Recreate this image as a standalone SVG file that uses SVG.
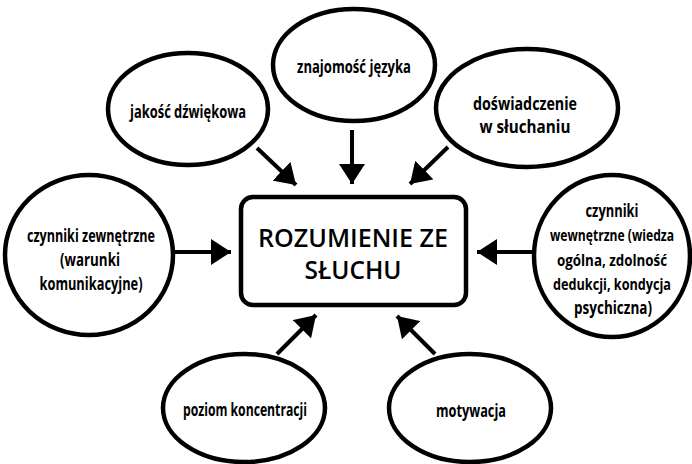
<svg xmlns="http://www.w3.org/2000/svg" width="692" height="464" viewBox="0 0 692 464">
<defs>
<style>
.n{fill:#fff;stroke:#000;stroke-width:4.5}
.t{font-family:"Open Sans","Liberation Sans",sans-serif;font-weight:700;font-size:17px;fill:#000;text-anchor:middle}
.s{font-size:16px}
.c{font-family:"Open Sans","Liberation Sans",sans-serif;font-weight:600;font-size:25px;fill:#000;text-anchor:middle}
.e{stroke:#000;stroke-width:4;fill:none;marker-end:url(#ah)}
</style>
<marker id="ah" viewBox="0 0 20 26" refX="20" refY="13" markerWidth="20" markerHeight="26" markerUnits="userSpaceOnUse" orient="auto">
<path d="M0,0 L20,13 L0,26 z" fill="#000"/>
</marker>
</defs>
<rect width="692" height="464" fill="#fff"/>
<g id="connectors">
<line class="e" x1="257" y1="148" x2="296" y2="185"/>
<line class="e" x1="352" y1="130" x2="352" y2="184"/>
<line class="e" x1="448" y1="147" x2="410" y2="184"/>
<line class="e" x1="175" y1="252" x2="231" y2="252"/>
<line class="e" x1="533" y1="252" x2="477" y2="252"/>
<line class="e" x1="277" y1="354" x2="316" y2="315"/>
<line class="e" x1="435" y1="354" x2="397" y2="316"/>
</g>
<g id="center">
<rect class="n" x="241" y="197" width="225" height="108" rx="12"/>
<text class="c" x="353" y="247" textLength="190" lengthAdjust="spacingAndGlyphs">ROZUMIENIE ZE</text>
<text class="c" x="353" y="279" textLength="97" lengthAdjust="spacingAndGlyphs">SŁUCHU</text>
</g>
<g id="jakosc">
<ellipse class="n" cx="188" cy="109" rx="80" ry="56"/>
<text class="t" x="188" y="118" textLength="116" lengthAdjust="spacingAndGlyphs">jakość dźwiękowa</text>
</g>
<g id="znajomosc">
<ellipse class="n" cx="354" cy="65" rx="81" ry="56"/>
<text class="t" x="354" y="73" textLength="114" lengthAdjust="spacingAndGlyphs">znajomość języka</text>
</g>
<g id="doswiadczenie">
<ellipse class="n" cx="527" cy="108" rx="91" ry="59"/>
<text class="t" x="525" y="110" textLength="104" lengthAdjust="spacingAndGlyphs">doświadczenie</text>
<text class="t" x="525" y="133" textLength="91" lengthAdjust="spacingAndGlyphs">w słuchaniu</text>
</g>
<g id="zewnetrzne">
<ellipse class="n" cx="89" cy="255" rx="84" ry="80"/>
<text class="t" x="91" y="242" textLength="128" lengthAdjust="spacingAndGlyphs">czynniki zewnętrzne</text>
<text class="t" x="90" y="266" textLength="60" lengthAdjust="spacingAndGlyphs">(warunki</text>
<text class="t" x="91" y="290" textLength="103" lengthAdjust="spacingAndGlyphs">komunikacyjne)</text>
</g>
<g id="wewnetrzne">
<ellipse class="n" cx="612" cy="256" rx="78" ry="81"/>
<text class="t" x="612" y="217" textLength="53" lengthAdjust="spacingAndGlyphs">czynniki</text>
<text class="t s" x="612" y="241" textLength="124" lengthAdjust="spacingAndGlyphs">wewnętrzne (wiedza</text>
<text class="t s" x="612" y="266" textLength="110" lengthAdjust="spacingAndGlyphs">ogólna, zdolność</text>
<text class="t s" x="612" y="290" textLength="118" lengthAdjust="spacingAndGlyphs">dedukcji, kondycja</text>
<text class="t" x="613" y="314" textLength="78" lengthAdjust="spacingAndGlyphs">psychiczna)</text>
</g>
<g id="poziom">
<ellipse class="n" cx="244" cy="408" rx="81" ry="54"/>
<text class="t" x="245" y="416" textLength="124" lengthAdjust="spacingAndGlyphs">poziom koncentracji</text>
</g>
<g id="motywacja">
<ellipse class="n" cx="470" cy="408" rx="81" ry="54"/>
<text class="t" x="471" y="417" textLength="70" lengthAdjust="spacingAndGlyphs">motywacja</text>
</g>
</svg>
